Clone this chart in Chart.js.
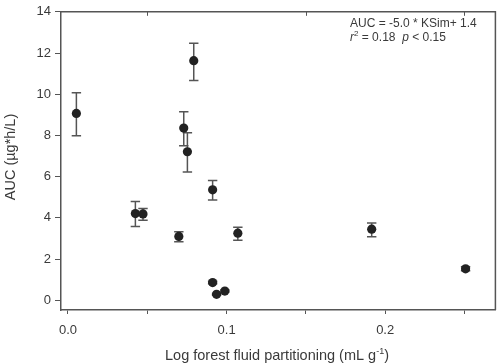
<!DOCTYPE html>
<html>
<head>
<meta charset="utf-8">
<script src="https://cdn.jsdelivr.net/npm/chart.js@4"></script>
<style>
  html, body { margin: 0; padding: 0; background: #fff; }
  #wrap { width: 500px; height: 364px; }
</style>
</head>
<body>
<div id="wrap"><canvas id="auc"></canvas></div>
<script>
// partitioning (x) vs AUC (y), with error bar low/high
const partition = [0.0053, 0.0793, 0.0730, 0.0753, 0.0912, 0.0425, 0.0473, 0.0699, 0.1071, 0.1915, 0.2507, 0.0912, 0.0937, 0.0989];
const aucMean  = [9.07, 11.63, 8.36, 7.21, 5.36, 4.21, 4.19, 3.10, 3.26, 3.45, 1.53, 0.86, 0.29, 0.45];
const aucLow   = [7.98, 10.67, 7.50, 6.23, 4.87, 3.58, 3.88, 2.84, 2.91, 3.09, 1.43, 0.80, 0.25, 0.40];
const aucHigh  = [10.07, 12.47, 9.15, 8.13, 5.81, 4.80, 4.46, 3.33, 3.55, 3.75, 1.63, 0.92, 0.33, 0.50];

const xTicks = [0, 0.05, 0.1, 0.15, 0.2, 0.25];
const xLabeled = [0, 0.1, 0.2];
const xTopTicks = [0.05, 0.15, 0.25];
const yTicks = [0, 2, 4, 6, 8, 10, 12, 14];

const axisColor = '#555';
const textColor = '#3a3a3a';
const FONT = '"Liberation Sans", Arial, sans-serif';

const errorBars = {
  id: 'errorBars',
  beforeDatasetsDraw(chart) {
    const { ctx, scales: { x, y } } = chart;
    ctx.save();
    ctx.strokeStyle = axisColor;
    ctx.lineWidth = 1.5;
    partition.forEach((v, i) => {
      const px = x.getPixelForValue(v);
      const top = y.getPixelForValue(aucHigh[i]);
      const bot = y.getPixelForValue(aucLow[i]);
      ctx.beginPath();
      ctx.moveTo(px, top); ctx.lineTo(px, bot);
      ctx.moveTo(px - 4.7, top); ctx.lineTo(px + 4.7, top);
      ctx.moveTo(px - 4.7, bot); ctx.lineTo(px + 4.7, bot);
      ctx.stroke();
    });
    ctx.restore();
  }
};

const frameAndText = {
  id: 'frameAndText',
  afterDraw(chart) {
    const { ctx, chartArea: a, scales: { x } } = chart;
    ctx.save();
    // top + right frame
    ctx.strokeStyle = axisColor;
    ctx.lineWidth = 1.5;
    ctx.beginPath();
    ctx.moveTo(a.left, a.top); ctx.lineTo(a.right, a.top); ctx.lineTo(a.right, a.bottom);
    ctx.stroke();
    ctx.lineWidth = 1;
    ctx.beginPath();
    xTopTicks.forEach(v => {
      const px = Math.round(x.getPixelForValue(v)) + 0.5;
      ctx.moveTo(px, a.top); ctx.lineTo(px, a.top + 4);
    });
    ctx.stroke();

    ctx.fillStyle = textColor;
    ctx.textBaseline = 'alphabetic';

    // y title
    ctx.save();
    ctx.translate(15, 157);
    ctx.rotate(-Math.PI / 2);
    ctx.font = '14.5px ' + FONT;
    ctx.textAlign = 'center';
    ctx.fillText('AUC (µg*h/L)', 0, 0);
    ctx.restore();

    // x title with superscript
    ctx.textAlign = 'left';
    const p1 = 'Log forest fluid partitioning (mL g';
    const sup = '-1';
    const p3 = ')';
    ctx.font = '14.5px ' + FONT;
    const w1 = ctx.measureText(p1).width;
    ctx.font = '9px ' + FONT;
    const w2 = ctx.measureText(sup).width;
    ctx.font = '14.5px ' + FONT;
    const w3 = ctx.measureText(p3).width;
    let sx = 277 - (w1 + w2 + w3) / 2;
    const base = 360;
    ctx.fillText(p1, sx, base); sx += w1;
    ctx.font = '9px ' + FONT;
    ctx.fillText(sup, sx, base - 6); sx += w2;
    ctx.font = '14.5px ' + FONT;
    ctx.fillText(p3, sx, base);

    // regression note
    ctx.font = '12px ' + FONT;
    ctx.fillText('AUC = -5.0 * KSim+ 1.4', 350, 27);
    let tx = 350;
    const b2 = 41;
    ctx.font = 'italic 12px ' + FONT;
    ctx.fillText('r', tx, b2); tx += ctx.measureText('r').width;
    ctx.font = '8px ' + FONT;
    ctx.fillText('2', tx, b2 - 5); tx += ctx.measureText('2').width;
    ctx.font = '12px ' + FONT;
    ctx.fillText(' = 0.18  ', tx, b2); tx += ctx.measureText(' = 0.18  ').width;
    ctx.font = 'italic 12px ' + FONT;
    ctx.fillText('p', tx, b2); tx += ctx.measureText('p').width;
    ctx.font = '12px ' + FONT;
    ctx.fillText(' < 0.15', tx, b2);
    ctx.restore();
  }
};

new Chart(document.getElementById('auc'), {
  type: 'scatter',
  data: {
    datasets: [{
      data: partition.map((v, i) => ({ x: v, y: aucMean[i] })),
      backgroundColor: '#222',
      borderWidth: 0,
      pointRadius: 4.6,
      pointHoverRadius: 4.6
    }]
  },
  options: {
    responsive: true,
    maintainAspectRatio: false,
    animation: false,
    layout: { padding: { top: 5, right: 2, left: 0, bottom: 0 } },
    plugins: { legend: { display: false }, tooltip: { enabled: false } },
    scales: {
      x: {
        type: 'linear',
        min: -0.0044,
        max: 0.2695,
        afterBuildTicks: s => { s.ticks = xTicks.map(v => ({ value: v })); },
        afterFit: s => { s.height = 54; },
        grid: { drawOnChartArea: false, tickLength: 4, color: axisColor, lineWidth: 1 },
        border: { color: axisColor, width: 1.5 },
        ticks: {
          padding: 9,
          color: textColor,
          font: { family: FONT, size: 13 },
          maxRotation: 0,
          autoSkip: false,
          callback: v => xLabeled.some(t => Math.abs(t - v) < 1e-9) ? v.toFixed(1) : ''
        }
      },
      y: {
        min: -0.47,
        max: 14,
        afterBuildTicks: s => { s.ticks = yTicks.map(v => ({ value: v })); },
        afterFit: s => { s.width = 61; },
        grid: { drawOnChartArea: false, tickLength: 6, color: axisColor, lineWidth: 1 },
        border: { color: axisColor, width: 1.5 },
        ticks: {
          padding: 4,
          color: textColor,
          font: { family: FONT, size: 13 },
          autoSkip: false,
          callback: v => String(v)
        }
      }
    }
  },
  plugins: [errorBars, frameAndText]
});
</script>
</body>
</html>
